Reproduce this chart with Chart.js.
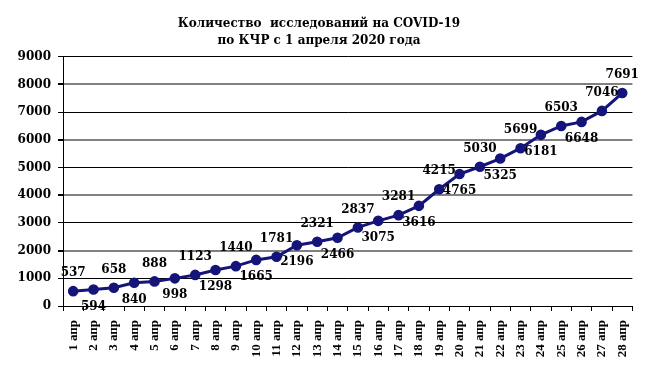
<!DOCTYPE html>
<html>
<head>
<meta charset="utf-8">
<script src="https://cdn.jsdelivr.net/npm/chart.js@4"></script>
<style>
    body { margin: 0; background: #fff; }
    #myChart { display: block; }
</style>
</head>
<body>
<canvas id="myChart" width="647" height="369"></canvas>
<script>
const categories = ['1 апр', '2 апр', '3 апр', '4 апр', '5 апр', '6 апр', '7 апр', '8 апр', '9 апр', '10 апр',
    '11 апр', '12 апр', '13 апр', '14 апр', '15 апр', '16 апр', '17 апр', '18 апр', '19 апр', '20 апр',
    '21 апр', '22 апр', '23 апр', '24 апр', '25 апр', '26 апр', '27 апр', '28 апр'];
const tests = [537, 594, 658, 840, 888, 998, 1123, 1298, 1440, 1665,
    1781, 2196, 2321, 2466, 2837, 3075, 3281, 3616, 4215, 4765,
    5030, 5325, 5699, 6181, 6503, 6648, 7046, 7691];
const yMin = 0;
const yMax = 9000;
const yStep = 1000;
const titleLines = ['Количество  исследований на COVID-19', 'по КЧР с 1 апреля 2020 года'];

const serif = '"DejaVu Serif", "Liberation Serif", serif';

// подписи значений над/под точками
const pointLabels = {
    id: 'pointLabels',
    afterDatasetsDraw(chart) {
        const ctx = chart.ctx;
        const meta = chart.getDatasetMeta(0);
        const data = chart.data.datasets[0].data;
        ctx.save();
        ctx.font = 'bold 12px ' + serif;
        ctx.fillStyle = '#000';
        ctx.textAlign = 'center';
        ctx.textBaseline = 'middle';
        meta.data.forEach((pt, i) => {
            const up = i % 2 === 0 || i === data.length - 1;
            ctx.fillText(data[i], pt.x, up ? pt.y - 18 : pt.y + 17);
        });
        ctx.restore();
    }
};

function isGray(c){
    return c.tick && c.tick.value % 2000 === 0 && c.tick.value !== 0;
}

function getChart(){
    const ctx = document.getElementById('myChart');

    new Chart(ctx, {
        type: 'line',
        data: {
            labels: categories,
            datasets: [{
                data: tests,
                borderColor: '#14147a',
                backgroundColor: '#14147a',
                borderWidth: 3,
                pointRadius: 3.8,
                pointHoverRadius: 3.8,
                tension: 0
            }]
        },
        plugins: [pointLabels],
        options: {
            responsive: false,
            animation: false,
            layout: { padding: { left: 0, right: 9, top: 0, bottom: 0 } },
            plugins: {
                legend: { display: false },
                tooltip: { enabled: false },
                title: {
                    display: true,
                    text: titleLines,
                    color: '#000',
                    font: { family: serif, size: 12, weight: 'bold', lineHeight: 1.45 },
                    padding: { top: 15, bottom: 7 }
                }
            },
            scales: {
                x: {
                    offset: true,
                    grid: { drawOnChartArea: false, offset: true, drawTicks: true, tickLength: 5, tickColor: '#000' },
                    border: { color: '#000', width: 1 },
                    ticks: {
                        autoSkip: false,
                        minRotation: 90,
                        maxRotation: 90,
                        padding: 9,
                        color: '#000',
                        font: { family: '"Liberation Serif", serif', size: 13, weight: 'bold' }
                    },
                    afterFit: (scale) => { scale.height = 63; }
                },
                y: {
                    min: yMin,
                    max: yMax,
                    grid: {
                        color: (c) => isGray(c) ? '#808080' : '#000',
                        lineWidth: (c) => isGray(c) ? 2 : 1,
                        tickLength: 5,
                        tickColor: '#000'
                    },
                    border: { color: '#000', width: 1 },
                    ticks: {
                        stepSize: yStep,
                        padding: 7,
                        color: '#000',
                        font: { family: serif, size: 12, weight: 'bold' },
                        callback: (value) => String(value)
                    },
                    afterFit: (scale) => { scale.width = 63; }
                }
            }
        }
    });
}

document.addEventListener('DOMContentLoaded', (event) => {
    getChart();
});
</script>
</body>
</html>
